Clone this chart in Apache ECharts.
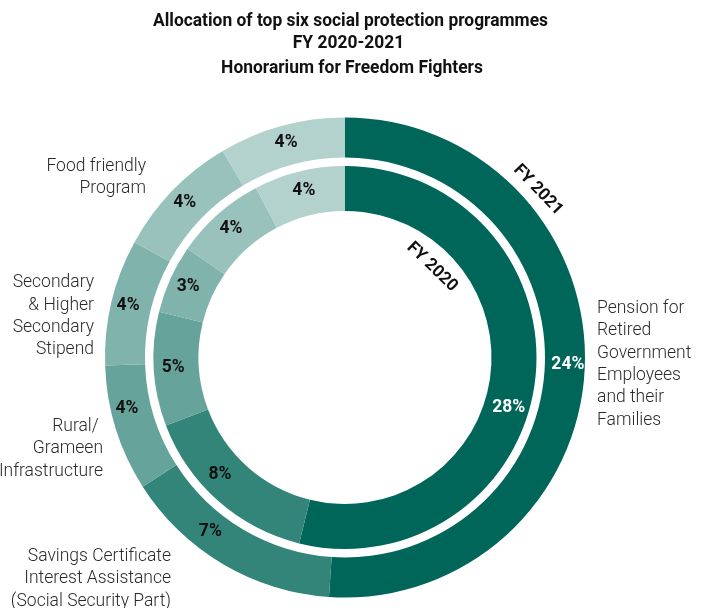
<!DOCTYPE html>
<html><head><meta charset="utf-8">
<script src="https://cdn.jsdelivr.net/npm/echarts@6/dist/echarts.min.js"></script>
<style>html,body{margin:0;padding:0;background:#fff}#c{width:703px;height:608px}</style>
</head><body><div id="c"></div>
<script>
const titleLines = ['Allocation of top six social protection programmes', 'FY 2020-2021', 'Honorarium for Freedom Fighters'];
const categories = [
  'Pension for Retired Government Employees and their Families',
  'Savings Certificate Interest Assistance (Social Security Part)',
  'Rural/ Grameen Infrastructure',
  'Secondary & Higher Secondary Stipend',
  'Food friendly Program',
  'Honorarium for Freedom Fighters'
];
const categoryLabelLines = [
  'Pension for\nRetired\nGovernment\nEmployees\nand their\nFamilies',
  'Savings Certificate\nInterest Assistance\n(Social Security Part)',
  'Rural/ \nGrameen\nInfrastructure',
  'Secondary\n& Higher\nSecondary\nStipend',
  'Food friendly\nProgram',
  null
];
const fy2021 = [24, 7, 4, 4, 4, 4];
const fy2020 = [28, 8, 5, 3, 4, 4];
const ringNames = ['FY 2021', 'FY 2020'];
const colors = ['#006659', '#33857a', '#66a39b', '#80b3ac', '#99c2bd', '#b3d1cd'];

const CX = 345, CY = 357.5;

// title condensed scaling
const mc = document.createElement('canvas').getContext('2d');
mc.font = 'bold 18px Roboto';
const tScale = 395 / mc.measureText(titleLines[0]).width;

function ringData(vals) {
  return vals.map((v, i) => ({
    name: categories[i], value: v,
    itemStyle: { color: colors[i] },
    label: { color: i === 0 ? '#ffffff' : '#111111' }
  }));
}

const nudges = {
  '0-1': [-21, -18], '0-2': [-5, -15],
  '1-0': [-7, 29], '1-1': [-11, -12]
};

const labelPos = [
  { x: 597, y: 364.5, align: 'left' },
  { x: 171, y: 579, align: 'right' },
  { x: 103, y: 449, align: 'right' },
  { x: 94, y: 316.5, align: 'right' },
  { x: 146, y: 177.5, align: 'right' },
  null
];

const graphics = [];
titleLines.forEach((t, i) => {
  graphics.push({
    type: 'text', x: [350.5, 348.5, 352][i], y: [21.5, 43.5, 68.5][i], scaleX: tScale, silent: true,
    style: { text: t, font: 'bold 18px Roboto', fill: '#111', textAlign: 'center', textVerticalAlign: 'middle' }
  });
});
categoryLabelLines.forEach((t, i) => {
  if (!t) return;
  const p = labelPos[i];
  graphics.push({
    type: 'text', x: p.x, y: p.y, silent: true,
    style: { text: t, fontFamily: 'Roboto', fontWeight: 300, fontSize: 17.5, lineHeight: 22.4, fill: '#2a2a2a',
      textAlign: p.align, textVerticalAlign: 'middle', align: p.align, verticalAlign: 'middle' }
  });
});
graphics.push({
  type: 'text', x: 538, y: 190, rotation: -46 * Math.PI / 180, silent: true,
  style: { text: ringNames[0], font: 'bold 17px Roboto', fill: '#111', textAlign: 'center', textVerticalAlign: 'middle' }
});
graphics.push({
  type: 'text', x: 432, y: 267, rotation: -44 * Math.PI / 180, silent: true,
  style: { text: ringNames[1], font: 'bold 17px Roboto', fill: '#111', textAlign: 'center', textVerticalAlign: 'middle' }
});

const chart = echarts.init(document.getElementById('c'), null, { renderer: 'canvas' });
function series(name, radius, vals) {
  return {
    type: 'pie', name, radius, center: [CX, CY], startAngle: 90, clockwise: true, silent: true,
    animation: false, avoidLabelOverlap: false,
    itemStyle: { borderWidth: 0 },
    label: { show: true, position: 'inside', formatter: '{c}%', fontFamily: 'Roboto', fontWeight: 'bold', fontSize: 17.5 },
    labelLine: { show: false },
    emphasis: { disabled: true },
    labelLayout: function (p) {
      const n = nudges[p.seriesIndex + '-' + p.dataIndex];
      return n ? { dx: n[0], dy: n[1] } : {};
    },
    data: ringData(vals)
  };
}
chart.setOption({
  animation: false,
  graphic: graphics,
  series: [
    series(ringNames[0], [200, 240], fy2021),
    series(ringNames[1], [146.5, 191.5], fy2020)
  ]
});
</script>
</body></html>
